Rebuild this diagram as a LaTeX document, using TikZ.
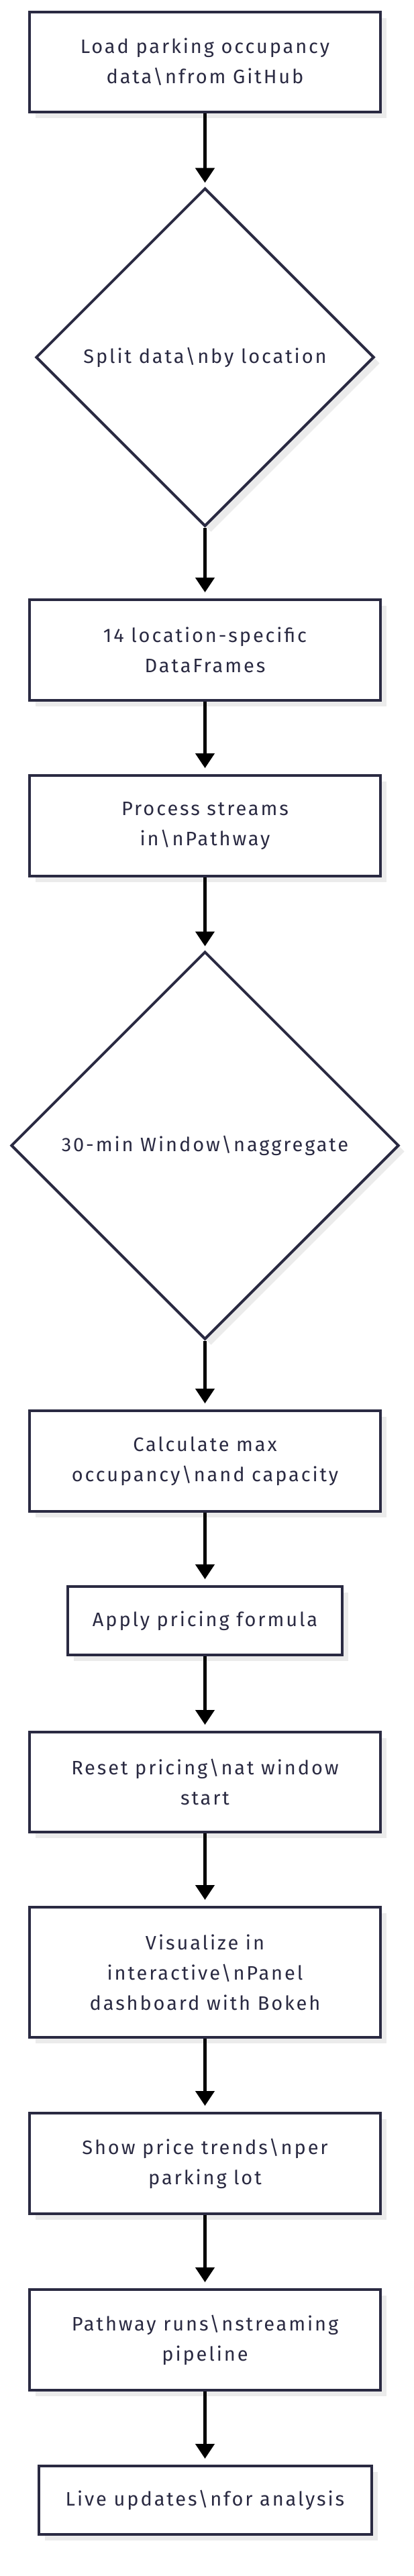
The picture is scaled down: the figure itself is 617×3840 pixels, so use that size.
\documentclass[tikz,border=0pt]{standalone}
\usepackage{fontspec}
\newfontfamily\nodefont{Fira Sans}[LetterSpace=10]
\usetikzlibrary{arrows.meta,shapes.geometric,shadows}
\definecolor{nodeclr}{RGB}{42,42,66}
\tikzset{
  shade/.style={drop shadow={shadow xshift=9pt,shadow yshift=-9pt,fill=black!8,opacity=1}},
  box/.style={draw=nodeclr, line width=4pt, fill=white, text=nodeclr, align=center,
    inner sep=0pt, minimum width=523pt, font=\nodefont\fontsize{29pt}{45pt}\selectfont, shade},
  dia/.style={diamond, aspect=1, draw=nodeclr, line width=4pt, fill=white, text=nodeclr,
    inner sep=0pt, font=\nodefont\fontsize{29pt}{45pt}\selectfont, shade},
  flow/.style={draw=black, line width=4.5pt, -{Triangle[length=22pt,width=28pt]}, shorten >=9pt},
  flowd/.style={flow, shorten >=6pt}
}
\begin{document}
\begin{tikzpicture}[x=1pt,y=-1pt]
\useasboundingbox[fill=white] (0,0) rectangle (617,3840);
\node[box, minimum height=149pt] (b1) at (305.5,92.5) {Load parking occupancy\\data\textbackslash nfrom GitHub};
\node[dia, minimum width=504pt, minimum height=504pt] (d1) at (305.5,532.5) {Split data\textbackslash nby location};
\node[box, minimum height=150pt] (b3) at (305.5,969) {14 location-specific\\DataFrames};
\node[box, minimum height=150pt] (b4) at (305.5,1231) {Process streams\\in\textbackslash nPathway};
\node[dia, minimum width=578pt, minimum height=578pt] (d2) at (305.5,1707.5) {30-min Window\textbackslash naggregate};
\node[box, minimum height=150pt] (b5) at (305.5,2178) {Calculate max\\occupancy\textbackslash nand capacity};
\node[box, minimum height=102pt, minimum width=409pt] (b6) at (305.5,2416) {Apply pricing formula};
\node[box, minimum height=149pt] (b7) at (305.5,2656.5) {Reset pricing\textbackslash nat window\\start};
\node[box, minimum height=194pt] (b8) at (305.5,2940) {Visualize in\\interactive\textbackslash nPanel\\dashboard with Bokeh};
\node[box, minimum height=150pt] (b9) at (305.5,3225) {Show price trends\textbackslash nper\\parking lot};
\node[box, minimum height=150pt] (b10) at (305.5,3488) {Pathway runs\textbackslash nstreaming\\pipeline};
\node[box, minimum height=102pt, minimum width=496pt] (b11) at (305.5,3727) {Live updates\textbackslash nfor analysis};
\draw[flowd] (b1.south) -- (d1.north);
\draw[flow] (d1.south) -- (b3.north);
\draw[flow] (b3.south) -- (b4.north);
\draw[flowd] (b4.south) -- (d2.north);
\draw[flow] (d2.south) -- (b5.north);
\draw[flow] (b5.south) -- (b6.north);
\draw[flow] (b6.south) -- (b7.north);
\draw[flow] (b7.south) -- (b8.north);
\draw[flow] (b8.south) -- (b9.north);
\draw[flow] (b9.south) -- (b10.north);
\draw[flow] (b10.south) -- (b11.north);
\end{tikzpicture}
\end{document}
